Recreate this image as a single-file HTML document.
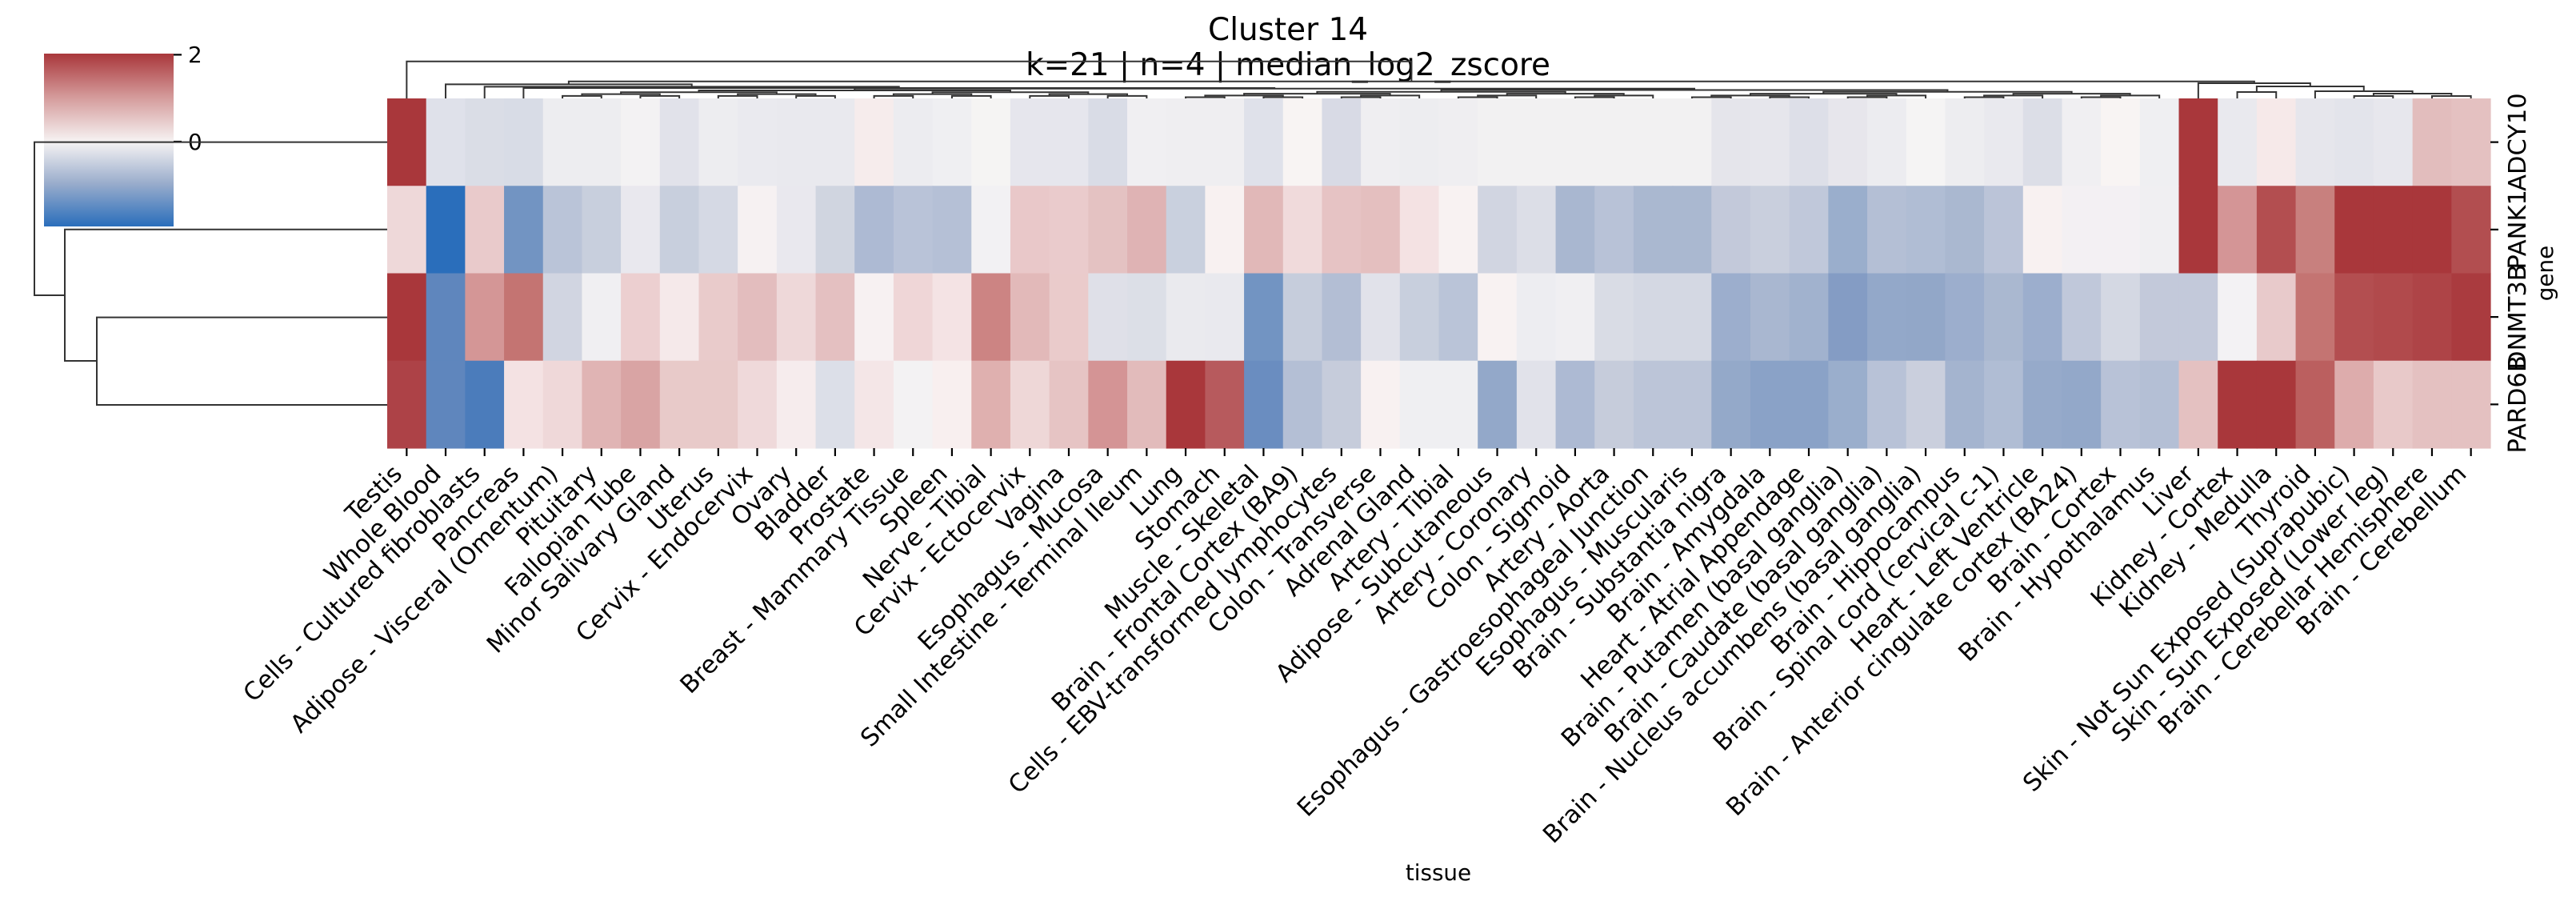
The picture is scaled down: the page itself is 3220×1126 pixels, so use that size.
<!DOCTYPE html>
<html><head><meta charset="utf-8">
<style>
html,body{margin:0;padding:0;background:#fff;}
svg{display:block;}
text{font-family:"DejaVu Sans","Liberation Sans",sans-serif;fill:#000;}
</style></head>
<body>
<svg id="s" xmlns="http://www.w3.org/2000/svg" width="3220" height="1126" viewBox="0 0 3220 1126">
<defs>
<linearGradient id="cb" x1="0" y1="0" x2="0" y2="1">
<stop offset="0" stop-color="#a9373b"/>
<stop offset="0.25" stop-color="#d49a9a"/>
<stop offset="0.51" stop-color="#f6f3f3"/>
<stop offset="0.75" stop-color="#9aadcc"/>
<stop offset="1" stop-color="#2a6ebb"/>
</linearGradient>
</defs>
<rect x="55" y="67" width="162" height="216" fill="url(#cb)"/>
<line x1="217" y1="68.4" x2="227" y2="68.4" stroke="#000" stroke-width="2.2"/>
<line x1="217" y1="177" x2="227" y2="177" stroke="#000" stroke-width="2.2"/>
<text x="235" y="78" font-size="27.8">2</text>
<text x="235" y="187" font-size="27.8">0</text>
<text x="1610" y="50" font-size="38.9" text-anchor="middle">Cluster 14</text>
<text x="1610" y="94" font-size="38.9" text-anchor="middle">k=21 | n=4 | median_log2_zscore</text>
<text x="1798" y="1100" font-size="27.8" text-anchor="middle">tissue</text>
<text transform="translate(3191,341.5) rotate(-90)" font-size="27.8" text-anchor="middle">gene</text>
<g id="hm"></g>
<g id="lab"></g>
<g id="dg" stroke="#333" stroke-width="2" fill="none">
<polyline points="484,177.6 43,177.6 43,369 81,369"/>
<polyline points="484,286.7 81,286.7 81,451 121,451"/>
<polyline points="484,396.6 121,396.6 121,506 484,506"/>
</g>
</svg>
<script>
var NS="http://www.w3.org/2000/svg";
var rows=[
["#a9373b","#dfe1ea","#dadde6","#d8dce6","#ededf0","#ededf0","#f3f2f3","#e1e2ea","#ededf0","#eaeaef","#e9e9ee","#e9e9ee","#f6ecec","#ececf0","#efeff2","#f5f4f3","#e6e6ed","#e6e6ed","#d9dce6","#f0eff2","#efeef1","#efeef1","#dfe1ea","#f8f4f3","#d8dae5","#efeef1","#ededf0","#efeef1","#f2f1f2","#f2f1f2","#f2f1f2","#f2f1f2","#f2f1f2","#f2f1f2","#e5e5eb","#e6e6ec","#dddfe8","#e7e6ec","#ececf0","#f5f4f4","#ededf0","#e9e9ee","#dcdee7","#f0eff2","#f8f4f3","#efeff2","#a9373b","#e9e9ee","#f6e9e9","#e6e6ec","#e3e4eb","#e7e7ed","#e2bdbd","#e4c1c1"],
["#eed8d9","#2a6ebb","#e9cacb","#7294c2","#bac4d8","#c8cfdd","#e9e8ee","#c8cfdd","#d5d9e4","#f6f1f2","#e9e8ee","#d0d5e0","#adbad3","#b9c3d8","#b5c0d6","#f2f1f3","#e9c8c9","#eacbcc","#e4c2c2","#dfb3b4","#c9d0de","#f8f1f1","#e1b8b8","#f0dadb","#e6c3c4","#e4bfbf","#f4e2e3","#f8f2f2","#d1d5e1","#dcdee7","#a9b7d0","#b8c2d7","#aab8d0","#aab8d0","#c3c9da","#c9cfdd","#c0c8da","#9aaecc","#b4bfd5","#b0bdd4","#aab8d0","#bbc4d8","#f8f1f1","#f3f0f3","#f3f0f3","#f0eff2","#a9373b","#d49596","#b34e50","#c8807e","#a9373b","#a9373b","#a9373b","#b24e50"],
["#a9373b","#5f86bd","#d49696","#c47472","#d1d5e1","#f0eff2","#eccfd0","#f5e9ea","#e9cbcb","#e3bdbe","#eed8d9","#e4c0c1","#f7f1f2","#efd6d7","#f4e3e4","#cc8483","#e2b9b9","#eacbcb","#dfe0e8","#dcdfe7","#eaeaee","#e9e9ee","#7294c2","#c6cddc","#b3bed4","#e1e2ea","#c8cfdd","#bac4d8","#f8f2f2","#ededf1","#f0eff2","#d9dce5","#d4d8e3","#d4d8e3","#9caecd","#a9b7d0","#a1b2ce","#849cc4","#93a8c9","#92a7c8","#9caecd","#aab8d0","#9caecd","#c0c8da","#d4d8e3","#c3c9da","#c3c9da","#f3f2f4","#e8cacb","#c47472","#b34e50","#b14a4c","#ae4447","#aa3b3f"],
["#ad4247","#5f86bd","#4b7cbb","#f4e2e3","#efd8d9","#e0b4b4","#d9a4a4","#e8cac9","#e8cac9","#efd9da","#f6eced","#dcdfe8","#f4e6e7","#f3f2f3","#f8efef","#dfb0af","#eed7d7","#e6c4c4","#d49495","#e2bbbb","#a9373b","#b75a5d","#6a8dc0","#b4bfd5","#c6ccdb","#f8f1f1","#efeff2","#efeff2","#93a8c9","#e1e2ea","#adbad3","#c6ccdb","#bcc5d8","#bcc5d8","#94a9c9","#8aa2c7","#8aa2c7","#9aaecc","#b8c2d7","#cacfdd","#a4b4cf","#b0bdd4","#96aaca","#93a8c9","#b8c2d7","#b4bfd5","#e4c1c1","#a9373b","#a9373b","#bb5f5f","#ddacac","#e8c9c9","#e4c1c1","#e4c1c1"]];
var cols=["Testis","Whole Blood","Cells - Cultured fibroblasts","Pancreas","Adipose - Visceral (Omentum)","Pituitary","Fallopian Tube","Minor Salivary Gland","Uterus","Cervix - Endocervix","Ovary","Bladder","Prostate","Breast - Mammary Tissue","Spleen","Nerve - Tibial","Cervix - Ectocervix","Vagina","Esophagus - Mucosa","Small Intestine - Terminal Ileum","Lung","Stomach","Muscle - Skeletal","Brain - Frontal Cortex (BA9)","Cells - EBV-transformed lymphocytes","Colon - Transverse","Adrenal Gland","Artery - Tibial","Adipose - Subcutaneous","Artery - Coronary","Colon - Sigmoid","Artery - Aorta","Esophagus - Gastroesophageal Junction","Esophagus - Muscularis","Brain - Substantia nigra","Brain - Amygdala","Heart - Atrial Appendage","Brain - Putamen (basal ganglia)","Brain - Caudate (basal ganglia)","Brain - Nucleus accumbens (basal ganglia)","Brain - Hippocampus","Brain - Spinal cord (cervical c-1)","Heart - Left Ventricle","Brain - Anterior cingulate cortex (BA24)","Brain - Cortex","Brain - Hypothalamus","Liver","Kidney - Cortex","Kidney - Medulla","Thyroid","Skin - Not Sun Exposed (Suprapubic)","Skin - Sun Exposed (Lower leg)","Brain - Cerebellar Hemisphere","Brain - Cerebellum"];
var genes=["ADCY10","PANK1","DNMT3B","PARD6B"];
var X0=484,X1=3113,Y0=123,Y1=560,cw=(X1-X0)/54,rh=(Y1-Y0)/4,FS=30.5;
function el(t,a,p,txt){var e=document.createElementNS(NS,t);for(var k in a)e.setAttribute(k,a[k]);if(txt!==undefined)e.textContent=txt;p.appendChild(e);return e;}
var hm=document.getElementById("hm"),lab=document.getElementById("lab"),dg=document.getElementById("dg");
for(var r=0;r<4;r++)for(var c=0;c<54;c++){
 var x=X0+c*cw;el("rect",{x:x.toFixed(2),y:(Y0+r*rh).toFixed(2),width:(cw+0.6).toFixed(2),height:(rh+0.6).toFixed(2),fill:rows[r][c]},hm);}
for(var c=0;c<54;c++){var xc=X0+(c+0.5)*cw;
 el("line",{x1:xc,y1:560,x2:xc,y2:570,stroke:"#000","stroke-width":2.2},lab);
 var px=xc-4,py=594;
 el("text",{x:px.toFixed(1),y:py,"font-size":FS,"text-anchor":"end",transform:"rotate(-45 "+px.toFixed(1)+" "+py+")"},lab,cols[c]);}
for(var r=0;r<4;r++){var yc=Y0+(r+0.5)*rh;
 el("line",{x1:3113,y1:yc,x2:3123,y2:yc,stroke:"#000","stroke-width":2.2},lab);
 el("text",{transform:"translate(3157,"+yc.toFixed(1)+") rotate(-90)","font-size":FS,"text-anchor":"middle"},lab,genes[r]);}
function cx(i){return X0+(i+0.5)*cw;}
function draw(node){
 if(typeof node==="number")return [cx(node),Y0];
 var a=draw(node.c[0]),b=draw(node.c[1]),y=node.y;
 el("polyline",{points:a[0]+","+a[1]+" "+a[0]+","+y+" "+b[0]+","+y+" "+b[0]+","+b[1]},dg);
 return [(a[0]+b[0])/2,y];}
function bal(lo,hi,y){ if(lo===hi)return lo; var m=Math.floor((lo+hi)/2);
 var ny=Math.min(y+2.3,121.5); return {c:[bal(lo,m,ny),bal(m+1,hi,ny)],y:y};}
var leftBig={c:[bal(4,19,113),bal(20,45,112.5)],y:110.8};
var tree={y:76.7,c:[0,{y:101.7,c:[
 {y:105.4,c:[1,{y:108.4,c:[2,{y:110,c:[3,leftBig]}]}]},
 {y:104,c:[46,{y:108,c:[{y:115,c:[47,48]},{y:114,c:[49,{y:117,c:[{y:120,c:[50,51]},{y:120,c:[52,53]}]}]}]}]}
]}]};
draw(tree);
</script>
</body></html>
